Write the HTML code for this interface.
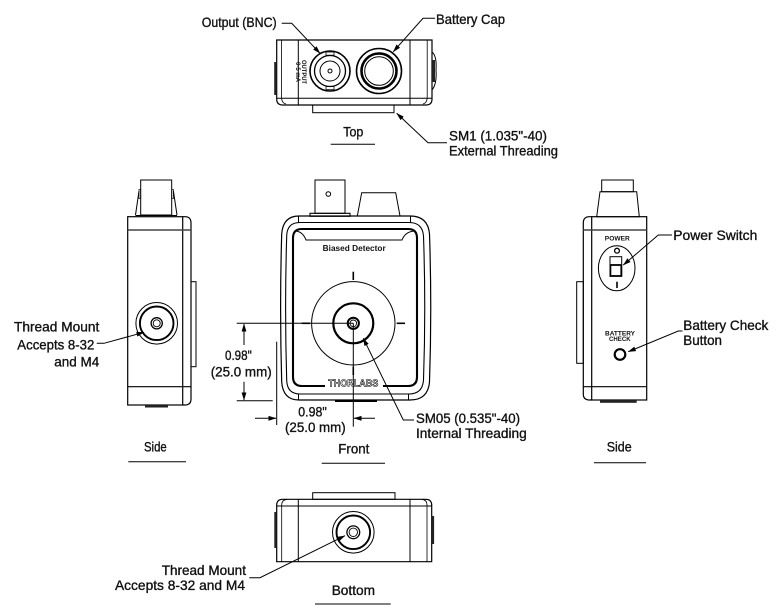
<!DOCTYPE html>
<html><head><meta charset="utf-8"><style>
html,body{margin:0;padding:0;background:#fff;}
svg{display:block;}
text{font-family:"Liberation Sans",Arial,sans-serif;fill:#111;}
.l{font-size:14px;stroke:#111;stroke-width:0.35;}
</style></head><body>
<svg width="780" height="612" viewBox="0 0 780 612" xmlns="http://www.w3.org/2000/svg">
<defs>
<marker id="a" markerWidth="8" markerHeight="6" refX="7.5" refY="3" orient="auto" markerUnits="userSpaceOnUse">
<path d="M0,0.6 L8,3 L0,5.4 Z" fill="#000"/>
</marker>
</defs>
<g fill="none" stroke="#000" stroke-width="1">

<!-- ===== TOP VIEW ===== -->
<path d="M276.7,40 L432,40 L432,99 Q432,105 426,105 L282.7,105 Q276.7,105 276.7,99 Z" stroke-width="1.2"/>
<line x1="298.3" y1="40" x2="298.3" y2="105"/>
<line x1="410" y1="40" x2="410" y2="105"/>
<line x1="276.7" y1="98.3" x2="432" y2="98.3"/>
<path d="M281.5,40 L281.5,97 Q281.5,103 286,104" stroke-width="0.8"/>
<path d="M427.2,40 L427.2,97 Q427.2,103 423,104" stroke-width="0.8"/>
<rect x="274.2" y="62" width="2.5" height="33" fill="#222" stroke="none"/>
<path d="M432,52 Q437,56 436,70 Q437,84 432,90" stroke-width="1"/>
<rect x="432" y="60" width="3" height="22" fill="#222" stroke="none"/>
<rect x="312.7" y="105" width="81.3" height="7.7"/>
<!-- BNC -->
<circle cx="330" cy="71" r="20" stroke-width="1.6"/>
<circle cx="330" cy="71" r="15.5" stroke-width="1.3"/>
<circle cx="330" cy="71" r="10" stroke-width="1"/>
<circle cx="330" cy="71" r="2" stroke-width="1"/>
<rect x="326" y="52" width="8" height="3.2" stroke-width="0.8"/>
<rect x="326" y="86.5" width="8" height="3.2" stroke-width="0.8"/>
<!-- Battery cap -->
<circle cx="379" cy="71" r="22.5" stroke-width="1.6"/>
<circle cx="379" cy="71" r="17.5" stroke-width="2.6"/>
<circle cx="379" cy="71" r="14.3" stroke-width="1"/>

<!-- ===== LEFT SIDE VIEW ===== -->
<rect x="140.7" y="180" width="31" height="35"/>
<line x1="139" y1="191" x2="135.5" y2="215"/>
<line x1="173.4" y1="191" x2="177" y2="215"/>
<rect x="139" y="189.5" width="1.7" height="9" stroke-width="0.7"/>
<rect x="171.7" y="189.5" width="1.7" height="9" stroke-width="0.7"/>
<line x1="135.5" y1="215.5" x2="177" y2="215.5"/>
<rect x="127.7" y="216.7" width="55" height="188.3" stroke-width="1.2"/>
<path d="M182.7,216.7 L185,216.7 Q191,216.7 191,223 L191,399 Q191,405 185,405 L182.7,405" stroke-width="1.2"/>
<line x1="127.7" y1="230" x2="191" y2="230" stroke-width="1.4" stroke="#444"/>
<line x1="127.7" y1="386.7" x2="191" y2="386.7" stroke-width="1.2"/>
<rect x="145" y="405" width="23" height="2.5" fill="#222" stroke="none"/>
<rect x="191" y="281.7" width="5" height="85"/>
<circle cx="156.7" cy="323.3" r="20.8"/>
<circle cx="156.7" cy="323.3" r="16.8" stroke-width="1.9"/>
<circle cx="156.7" cy="323.3" r="5.6" stroke-width="1.3"/>
<circle cx="156.7" cy="323.3" r="3.5" stroke-width="0.9"/>

<!-- ===== FRONT VIEW ===== -->
<rect x="315" y="180" width="30" height="33.3"/>
<circle cx="328.3" cy="194" r="2.3"/>
<rect x="310" y="213.3" width="40" height="3" stroke-width="1.1"/>
<path d="M361.7,192.7 L395.7,192.7 L400,216 L357.3,216 Z"/>
<path d="M299,216 L410,216 Q428,216 429.5,234 Q432,308 429.5,382 Q428,400 410,400 L299,400 Q283,400 281.7,382 Q279.5,308 281.7,234 Q283,216 299,216 Z" stroke-width="1.2"/>
<path d="M300,222.5 L409,222.5 Q422.5,222.5 423.5,236 Q426,308 423.5,380 Q422.5,394 409,394 L300,394 Q287,394 286.7,380 Q284.5,308 286.7,236 Q287,222.5 300,222.5 Z" stroke-width="1.1"/>
<line x1="298.5" y1="216" x2="298.5" y2="222.5"/>
<line x1="410.5" y1="216" x2="410.5" y2="222.5"/>
<line x1="298.5" y1="394" x2="298.5" y2="400"/>
<line x1="408.5" y1="394" x2="408.5" y2="400"/>
<path d="M325,386 L302,386 Q293,386 293,377 L293,238 Q293,229 302,229 L408,229 Q417,229 417,238 L417,377 Q417,386 408,386 L383,386" stroke-width="2.1"/>
<path d="M296,231 Q303,232 306,240 L402,240 Q405,232 414,231" stroke-width="1"/>
<line x1="335" y1="401" x2="377" y2="401" stroke-width="2"/>
<circle cx="353.3" cy="323.3" r="41.7"/>
<circle cx="353.3" cy="323.3" r="20" stroke-width="2.2"/>
<circle cx="353.3" cy="323.3" r="5.6" stroke-width="2"/>
<circle cx="353.3" cy="323.3" r="3.3" stroke-width="0.9"/>
<line x1="353.3" y1="271.7" x2="353.3" y2="280" stroke-width="1.6"/>
<line x1="301.7" y1="323.3" x2="310" y2="323.3" stroke-width="1.6"/>
<line x1="396.7" y1="323.3" x2="405" y2="323.3" stroke-width="1.6"/>
<line x1="353.3" y1="366.7" x2="353.3" y2="375" stroke-width="1.6"/>

<!-- dimensions -->
<line x1="236.7" y1="323.3" x2="353.3" y2="323.3"/>
<line x1="236.7" y1="400.7" x2="272.7" y2="400.7"/>
<line x1="244" y1="345" x2="244" y2="324" marker-end="url(#a)"/>
<line x1="244" y1="381.7" x2="244" y2="400" marker-end="url(#a)"/>
<line x1="276.7" y1="341.7" x2="276.7" y2="425"/>
<line x1="353.3" y1="323.3" x2="353.3" y2="426.7"/>
<line x1="255" y1="418.3" x2="276" y2="418.3" marker-end="url(#a)"/>
<line x1="375" y1="418.3" x2="354" y2="418.3" marker-end="url(#a)"/>

<!-- ===== RIGHT SIDE VIEW ===== -->
<rect x="601.7" y="180" width="31.6" height="11.7"/>
<path d="M600,191.7 L636.7,191.7 L639.3,216.7 L596.7,216.7 Z"/>
<rect x="591.7" y="216.7" width="55" height="183.3" stroke-width="1.2"/>
<path d="M591.7,216.7 L589.5,216.7 Q583.3,216.7 583.3,223 L583.3,394 Q583.3,400 589.5,400 L591.7,400" stroke-width="1.2"/>
<line x1="583.3" y1="230" x2="646.7" y2="230" stroke-width="1.4" stroke="#444"/>
<line x1="583.3" y1="386.7" x2="646.7" y2="386.7" stroke-width="1.2"/>
<rect x="576.7" y="281.7" width="6.6" height="81.6"/>
<rect x="600" y="400" width="36.7" height="2.8" fill="#222" stroke="none"/>
<ellipse cx="616.7" cy="268.3" rx="18.3" ry="22.5"/>
<circle cx="617" cy="250.7" r="2.4" stroke-width="1.3"/>
<rect x="610" y="256.7" width="11.7" height="19.3"/>
<rect x="610.4" y="265" width="10.9" height="11" stroke-width="1.8"/>
<line x1="617" y1="281.7" x2="617" y2="288" stroke-width="1.6"/>
<circle cx="620" cy="354.5" r="5.3" stroke-width="2.2"/>

<!-- ===== BOTTOM VIEW ===== -->
<rect x="312.7" y="492.7" width="82.3" height="6.6"/>
<path d="M276.7,561.7 L276.7,505.3 Q276.7,499.3 282.7,499.3 L425.7,499.3 Q431.7,499.3 431.7,505.3 L431.7,561.7 Z" stroke-width="1.2"/>
<line x1="276.7" y1="506" x2="431.7" y2="506"/>
<line x1="298.3" y1="499.3" x2="298.3" y2="561.7"/>
<line x1="410" y1="499.3" x2="410" y2="561.7"/>
<path d="M281.7,561.7 L281.7,505 Q281.7,500 287,499.3" stroke-width="0.8"/>
<path d="M427,561.7 L427,505 Q427,500 422,499.3" stroke-width="0.8"/>
<rect x="274.3" y="512" width="2.4" height="36" fill="#222" stroke="none"/>
<rect x="431.7" y="516" width="2.4" height="28" fill="#222" stroke="none"/>
<circle cx="353.3" cy="532.3" r="20.8"/>
<circle cx="353.3" cy="532.3" r="16.8" stroke-width="1.9"/>
<circle cx="353.3" cy="532.3" r="6.4" stroke-width="1.3"/>
<circle cx="353.3" cy="532.3" r="4.2" stroke-width="0.9"/>

<!-- ===== LEADERS ===== -->
<polyline points="281.7,23.3 291.7,23.3 320,53.3" marker-end="url(#a)"/>
<polyline points="435,18.3 423,18.3 393.3,51.7" marker-end="url(#a)"/>
<polyline points="447,142.7 428,142.7 396.7,113.3" marker-end="url(#a)"/>
<polyline points="96.7,343.3 104,343.3 144,332.3" marker-end="url(#a)"/>
<polyline points="414,420 403.3,420 363.3,338.3" marker-end="url(#a)"/>
<polyline points="672,235 658.3,235 623.3,265" marker-end="url(#a)"/>
<polyline points="682.5,331 678.3,331 628.3,351.7" marker-end="url(#a)"/>
<polyline points="249.3,577.7 260,577.7 345,535.7" marker-end="url(#a)"/>

<!-- underlines -->
<line x1="330.7" y1="144.3" x2="375" y2="144.3"/>
<line x1="128.3" y1="461.7" x2="186" y2="461.7"/>
<line x1="321.7" y1="463.3" x2="385" y2="463.3"/>
<line x1="594" y1="462.7" x2="646" y2="462.7"/>
<line x1="315" y1="604" x2="390.7" y2="604"/>
</g>

<!-- ===== TEXT ===== -->
<g>
<text x="201.7" y="27" textLength="75" lengthAdjust="spacingAndGlyphs" class="l">Output (BNC)</text>
<text x="436" y="24" textLength="69" lengthAdjust="spacingAndGlyphs" class="l">Battery Cap</text>
<text x="343.3" y="136.7" textLength="20" lengthAdjust="spacingAndGlyphs" class="l">Top</text>
<text x="449" y="140.5" textLength="98" lengthAdjust="spacingAndGlyphs" class="l">SM1 (1.035"-40)</text>
<text x="449" y="155.5" textLength="109" lengthAdjust="spacingAndGlyphs" class="l">External Threading</text>

<text x="14" y="331.7" textLength="85.3" lengthAdjust="spacingAndGlyphs" class="l">Thread Mount</text>
<text x="17.3" y="349.3" textLength="77" lengthAdjust="spacingAndGlyphs" class="l">Accepts 8-32</text>
<text x="54.3" y="366.7" textLength="45" lengthAdjust="spacingAndGlyphs" class="l">and M4</text>
<text x="144" y="451.7" textLength="22.7" lengthAdjust="spacingAndGlyphs" class="l">Side</text>

<text x="225" y="360" textLength="26.7" lengthAdjust="spacingAndGlyphs" class="l">0.98"</text>
<text x="210.7" y="376.5" textLength="61" lengthAdjust="spacingAndGlyphs" class="l">(25.0 mm)</text>
<text x="298.3" y="416.7" textLength="28.4" lengthAdjust="spacingAndGlyphs" class="l">0.98"</text>
<text x="285" y="432" textLength="60.7" lengthAdjust="spacingAndGlyphs" class="l">(25.0 mm)</text>
<text x="338.3" y="453.3" textLength="31" lengthAdjust="spacingAndGlyphs" class="l">Front</text>
<text x="416" y="423" textLength="104" lengthAdjust="spacingAndGlyphs" class="l">SM05 (0.535"-40)</text>
<text x="416" y="438" textLength="110.7" lengthAdjust="spacingAndGlyphs" class="l">Internal Threading</text>

<text x="673.3" y="240" textLength="84" lengthAdjust="spacingAndGlyphs" class="l">Power Switch</text>
<text x="683.3" y="330" textLength="85" lengthAdjust="spacingAndGlyphs" class="l">Battery Check</text>
<text x="683.3" y="345" textLength="38.7" lengthAdjust="spacingAndGlyphs" class="l">Button</text>
<text x="606.7" y="451.7" textLength="25" lengthAdjust="spacingAndGlyphs" class="l">Side</text>

<text x="161.7" y="575" textLength="84.3" lengthAdjust="spacingAndGlyphs" class="l">Thread Mount</text>
<text x="115" y="590" textLength="130" lengthAdjust="spacingAndGlyphs" class="l">Accepts 8-32 and M4</text>
<text x="331.7" y="595" textLength="43.3" lengthAdjust="spacingAndGlyphs" class="l">Bottom</text>
</g>

<!-- small device labels -->
<text x="322.7" y="251" textLength="63" lengthAdjust="spacingAndGlyphs" style="font-size:8px;font-weight:bold">Biased Detector</text>
<text x="328.3" y="386.3" textLength="50" lengthAdjust="spacingAndGlyphs" style="font-size:10px;font-weight:bold;fill:#fff;stroke:#000;stroke-width:0.6">THORLABS</text>
<text x="604.8" y="240.5" textLength="25" lengthAdjust="spacingAndGlyphs" style="font-size:6.5px;font-weight:bold">POWER</text>
<text x="605" y="335.7" textLength="30" lengthAdjust="spacingAndGlyphs" style="font-size:6px;font-weight:bold">BATTERY</text>
<text x="609" y="341" textLength="21.7" lengthAdjust="spacingAndGlyphs" style="font-size:6px;font-weight:bold">CHECK</text>
<text transform="translate(302,60) rotate(90)" textLength="24" lengthAdjust="spacingAndGlyphs" style="font-size:6px;font-weight:bold">OUTPUT</text>
<text transform="translate(296,62) rotate(90)" textLength="20" lengthAdjust="spacingAndGlyphs" style="font-size:6px;font-weight:bold">0-5 mA</text>
</svg>
</body></html>
